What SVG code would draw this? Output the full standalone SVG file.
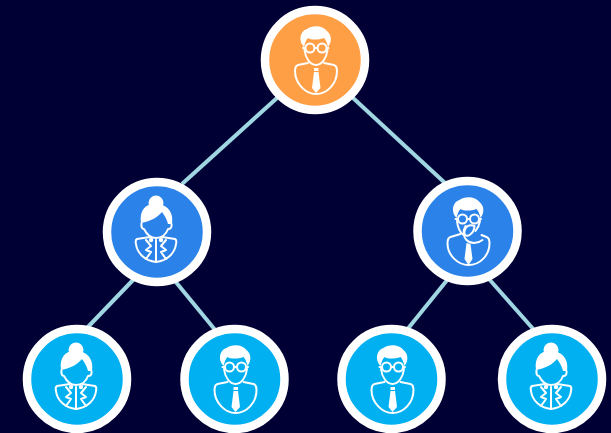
<svg xmlns="http://www.w3.org/2000/svg" width="611" height="433" viewBox="0 0 611 433">
<style>
.ring{stroke:#fff;stroke-width:8.5}
.link{stroke:#9fd6e2;stroke-width:4;fill:none}
.o{fill:none;stroke:#fff;stroke-width:2;stroke-linecap:round;stroke-linejoin:round}
.f{fill:#fff}
.top{fill:#ff9f45}.mid{fill:#2b82e8}.low{fill:#00b0f0}
</style>
<defs>
<g id="man">
<path class="f" d="M-11,-13C-17,-19-15,-29-8,-31C-3,-35 8,-35 12,-29C17,-25 17,-18 13,-13C12,-17 11,-20 9,-22C3,-20-4,-20-7,-22C-9,-20-10,-17-11,-13Z"/>
<path class="o" d="M-10.500,-10C-9.500,-2-5,5 1,5C7,5 11.500,-2 12.500,-10"/>
<circle class="o" cx="-5" cy="-12" r="4.500"/><circle class="o" cx="7" cy="-12" r="4.500"/>
<path class="o" d="M-0.500,-12H2.500M-10,-12H-12M12,-12H13.500"/>
<path class="o" d="M-7,3L-17,5Q-20,6-20,11C-20,24-9,34 1,34C12,34 22,24 22,11Q22,6 19,5L9,3"/>
<path class="f" d="M-1,8H3.500V11H-1ZM-1,12H3.500L5.500,28L1,33L-3,28Z"/>
</g>
<g id="man2">
<path class="f" d="M-11,-13C-17,-19-15,-29-8,-31C-3,-35 8,-35 12,-29C17,-25 17,-18 13,-13C12,-17 11,-20 9,-22C3,-20-4,-20-7,-22C-9,-20-10,-17-11,-13Z"/>
<path class="o" d="M-10.500,-10C-10,-5-8,1-4,4"/>
<path class="o" d="M12.500,-10C12,-7 11,-4 8,0"/>
<circle class="o" cx="-5" cy="-12" r="4.500"/><circle class="o" cx="7" cy="-12" r="4.500"/>
<path class="o" d="M-0.500,-12H2.500M-10,-12H-12M12,-12H13.500"/>
<path class="o" d="M7,-5C2,-7-2,-5-3,0C-4,4-1,6 2,4C5,2 7,-2 7,-5M-2,-5C-5,0-4,6-1,9C3,13 10,13 15,9"/>
<path class="o" d="M-7,3L-17,6Q-20,7-20,12C-20,25-9,34 1,34C12,34 22,25 22,12Q22,7 19,6L14,4"/>
<path class="f" d="M-1,12L3,13L5,28L1,34L-3,28Z"/>
</g>
<g id="woman">
<circle class="f" cx="-1" cy="-29" r="7.500"/>
<path class="f" d="M-16,-9C-18,-22-11,-29-1,-28C10,-28 17,-20 15,-8L11,-8C10,-12 8,-16 5,-20C1,-15-6,-11-16,-9Z"/>
<path class="o" d="M-15.500,-9C-16,-5-15,-3-13,-3C-10,3-6,6-1,6C4,6 9,3 11,-3C14,-3 15,-5 14.500,-8"/>
<path class="o" d="M-7,5L-20,7Q-22,8-21,12C-20,21-12,29-1,30C10,29 18,21 19,12Q20,8 18,7L5,5"/>
<path class="o" d="M-11,8L-6,14L-11,18L-6,20L-11,27M-1,8V30M9,8L4,14L9,18L4,20L9,27"/>
<circle class="f" cx="-6" cy="8" r="2.200"/><circle class="f" cx="4" cy="8" r="2.200"/>
</g>
</defs>
<rect width="611" height="433" fill="#010035"/>
<g id="connectors" class="link">
<line x1="277" y1="98" x2="182" y2="184"/>
<line x1="352" y1="97" x2="445" y2="183"/>
<line x1="134" y1="279" x2="86" y2="329"/>
<line x1="175" y1="281" x2="216" y2="331"/>
<line x1="448" y1="279" x2="406" y2="331"/>
<line x1="489" y1="279" x2="535" y2="331"/>
</g>
<g id="node-root"><circle class="ring top" cx="315" cy="60" r="50"/><use href="#man" x="315" y="60"/></g>
<g id="node-left"><circle class="ring mid" cx="157" cy="232" r="50"/><use href="#woman" x="157" y="232"/></g>
<g id="node-right"><circle class="ring mid" cx="467.500" cy="231" r="50"/><use href="#man2" x="467.500" y="231"/></g>
<g id="node-ll"><circle class="ring low" cx="77" cy="379" r="50"/><use href="#woman" x="77" y="379"/></g>
<g id="node-lr"><circle class="ring low" cx="234.500" cy="379" r="50"/><use href="#man" x="234.500" y="379"/></g>
<g id="node-rl"><circle class="ring low" cx="391.500" cy="379" r="50"/><use href="#man" x="391.500" y="379"/></g>
<g id="node-rr"><circle class="ring low" cx="552" cy="379" r="50"/><use href="#woman" x="552" y="379"/></g>
</svg>
